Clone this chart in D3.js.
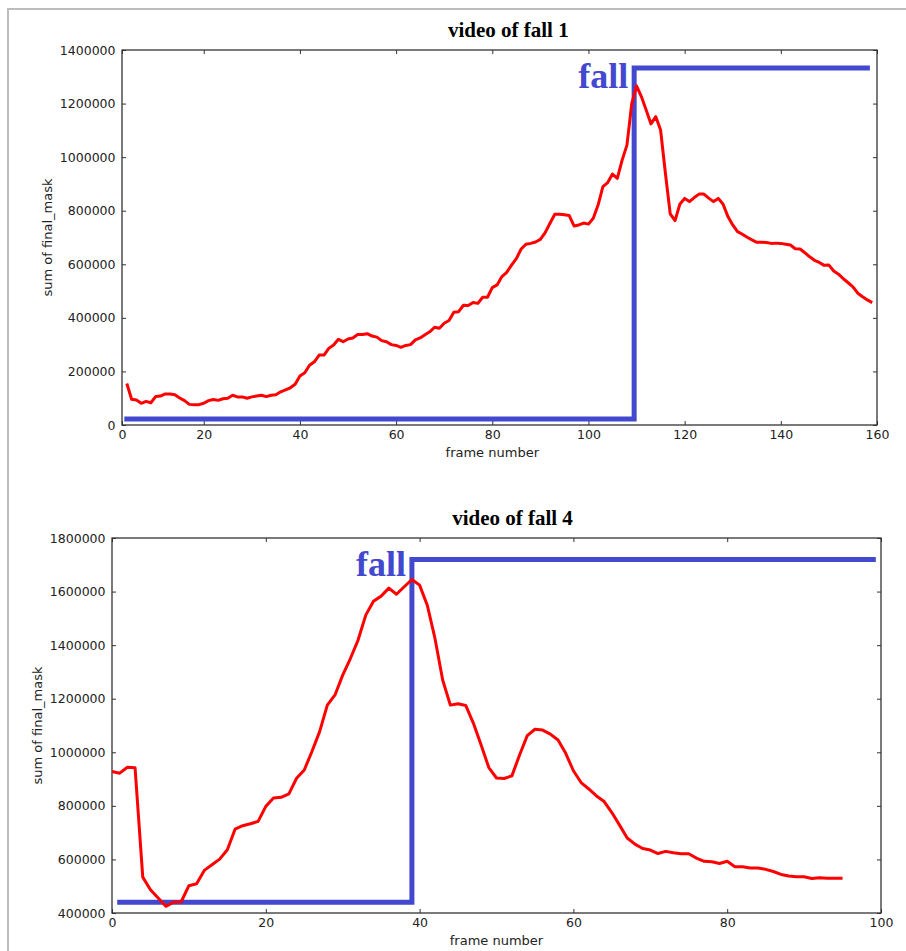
<!DOCTYPE html>
<html>
    <head>
        <script src="https://d3js.org/d3.v7.js"></script>
        <style>
            body{
                margin: 0;
                background: white;
            }
            .tick text{
                font-family: "DejaVu Sans", sans-serif;
                font-size: 12.5px;
                fill: #222;
            }
            .tick line{
                stroke: #333;
            }
        </style>
    </head>
    <body>
        <div class = 'graph'>
            <script>
                // video of fall 1 : sum of final_mask, frames 4..159
                const fall1Start = 4
                const fall1Values = [
                    155000, 96000, 93000, 81000, 88000, 83000, 106000, 108000, 116000, 116000,
                    113000, 101000, 91000, 77000, 76000, 76000, 81000, 91000, 95000, 92000,
                    98000, 100000, 111000, 105000, 105000, 100000, 105000, 108000, 111000, 106000,
                    111000, 113000, 124000, 131000, 139000, 152000, 183000, 195000, 223000, 236000,
                    261000, 261000, 286000, 299000, 320000, 311000, 321000, 325000, 338000, 338000,
                    341000, 332000, 328000, 315000, 311000, 300000, 297000, 290000, 297000, 300000,
                    318000, 325000, 337000, 348000, 365000, 361000, 380000, 390000, 421000, 423000,
                    447000, 446000, 457000, 454000, 477000, 477000, 513000, 523000, 554000, 570000,
                    597000, 621000, 657000, 675000, 678000, 683000, 693000, 718000, 753000, 787000,
                    787000, 785000, 782000, 743000, 747000, 754000, 750000, 772000, 821000, 890000,
                    905000, 937000, 921000, 989000, 1045000, 1200000, 1266000, 1226000, 1176000, 1124000,
                    1151000, 1101000, 940000, 788000, 763000, 824000, 846000, 834000, 849000, 862000,
                    862000, 847000, 834000, 846000, 824000, 778000, 747000, 722000, 712000, 701000,
                    691000, 682000, 682000, 681000, 678000, 679000, 678000, 675000, 672000, 658000,
                    657000, 643000, 628000, 615000, 607000, 596000, 597000, 575000, 563000, 546000,
                    531000, 516000, 492000, 479000, 467000, 457000
                ]
                const fall1StepFrames = [4, 109.5, 109.5, 158]
                const fall1StepValues = [22000, 22000, 1333000, 1333000]
                const fall1XTicks = [0, 20, 40, 60, 80, 100, 120, 140, 160]
                const fall1YTicks = [0, 200000, 400000, 600000, 800000, 1000000, 1200000, 1400000]

                // video of fall 4 : frames 0..95
                const fall4Start = 0
                const fall4Values = [
                    928000, 922000, 944000, 942000, 534000, 487000, 456000, 425000, 440000, 442000,
                    502000, 509000, 559000, 580000, 601000, 636000, 713000, 726000, 733000, 742000,
                    798000, 829000, 832000, 845000, 903000, 934000, 1003000, 1077000, 1176000, 1214000,
                    1288000, 1350000, 1419000, 1512000, 1564000, 1583000, 1613000, 1590000, 1618000, 1645000,
                    1624000, 1549000, 1425000, 1270000, 1176000, 1181000, 1175000, 1108000, 1027000, 943000,
                    904000, 902000, 912000, 990000, 1062000, 1086000, 1083000, 1068000, 1046000, 996000,
                    931000, 887000, 863000, 837000, 816000, 775000, 728000, 680000, 657000, 641000,
                    635000, 622000, 630000, 625000, 621000, 621000, 605000, 593000, 591000, 585000,
                    593000, 573000, 573000, 568000, 568000, 563000, 555000, 544000, 538000, 535000,
                    535000, 529000, 532000, 530000, 530000, 530000
                ]
                const fall4StepFrames = [1, 39, 39, 99]
                const fall4StepValues = [440000, 440000, 1720000, 1720000]
                const fall4XTicks = [0, 20, 40, 60, 80, 100]
                const fall4YTicks = [400000, 600000, 800000, 1000000, 1200000, 1400000, 1600000, 1800000]

                const titles = ['video of fall 1', 'video of fall 4']
                const fallLabel = 'fall'
                const xLabel = 'frame number'
                const yLabel = 'sum of final_mask'

                const w = 906
                const h = 951
                const blue = '#4349cf'

                const svg = d3.select('.graph')
                        .append('svg')
                        .attr('width', w)
                        .attr('height', h)

                // light grey page border (left and top)
                svg.append('path')
                    .attr('d', d3.line()([[8, h], [8, 9], [w, 9]]))
                    .attr('fill', 'none')
                    .attr('stroke', '#bdbdbd')
                    .attr('stroke-width', 2)

                const panels = [
                    {values: fall1Values, start: fall1Start, stepX: fall1StepFrames, stepY: fall1StepValues,
                     xTicks: fall1XTicks, yTicks: fall1YTicks, xDomain: [3, 160], title: titles[0],
                     left: 122, right: 877, top: 50, bottom: 425, labelPad: 20},
                    {values: fall4Values, start: fall4Start, stepX: fall4StepFrames, stepY: fall4StepValues,
                     xTicks: fall4XTicks, yTicks: fall4YTicks, xDomain: [0, 100], title: titles[1],
                     left: 112, right: 881, top: 538, bottom: 913, labelPad: 17}
                ]

                panels.forEach(p => {
                    const xScale = d3.scaleLinear()
                                     .domain(p.xDomain)
                                     .range([p.left, p.right])
                                     .clamp(true)
                    const yScale = d3.scaleLinear()
                                     .domain(d3.extent(p.yTicks))
                                     .range([p.bottom, p.top])

                    const g = svg.append('g')

                    // inward ticks on all four sides
                    g.append('g')
                        .attr('transform', 'translate(0,' + p.bottom + ')')
                        .call(d3.axisBottom(xScale).tickValues(p.xTicks).tickSizeInner(-4).tickSizeOuter(0).tickPadding(5.5))
                    g.append('g')
                        .attr('transform', 'translate(0,' + p.top + ')')
                        .call(d3.axisTop(xScale).tickValues(p.xTicks).tickSizeInner(-4).tickSizeOuter(0).tickFormat(''))
                    g.append('g')
                        .attr('transform', 'translate(' + p.left + ',0)')
                        .call(d3.axisLeft(yScale).tickValues(p.yTicks).tickSizeInner(-4).tickSizeOuter(0).tickPadding(6.5).tickFormat(d3.format('d')))
                    g.append('g')
                        .attr('transform', 'translate(' + p.right + ',0)')
                        .call(d3.axisRight(yScale).tickValues(p.yTicks).tickSizeInner(-4).tickSizeOuter(0).tickFormat(''))
                    g.selectAll('.domain').remove()

                    g.append('rect')
                        .attr('x', p.left)
                        .attr('y', p.top)
                        .attr('width', p.right - p.left)
                        .attr('height', p.bottom - p.top)
                        .attr('fill', 'none')
                        .attr('stroke', '#333')
                        .attr('stroke-width', 1.3)

                    // fall step line
                    const step = p.stepX.map((x, i) => [x, p.stepY[i]])
                    g.append('path')
                        .attr('d', d3.line().x(d => xScale(d[0])).y(d => yScale(d[1]))(step))
                        .attr('fill', 'none')
                        .attr('stroke', blue)
                        .attr('stroke-width', 5)
                        .attr('stroke-linecap', 'square')

                    // sum of final_mask
                    g.append('path')
                        .datum(p.values)
                        .attr('d', d3.line().x((d, i) => xScale(p.start + i)).y(d => yScale(d)))
                        .attr('fill', 'none')
                        .attr('stroke', '#ff0000')
                        .attr('stroke-width', 3)
                        .attr('stroke-linejoin', 'round')

                    g.append('text')
                        .attr('x', xScale(p.stepX[1]) - 6)
                        .attr('y', yScale(p.stepY[2]) + p.labelPad)
                        .attr('text-anchor', 'end')
                        .style('font-family', '"Liberation Serif", serif')
                        .style('font-weight', 'bold')
                        .style('font-size', '36px')
                        .style('fill', blue)
                        .text(fallLabel)

                    const mid = (xScale.copy().clamp(false)(0) + p.right) / 2

                    g.append('text')
                        .attr('x', mid + 16)
                        .attr('y', p.top - 13)
                        .attr('text-anchor', 'middle')
                        .style('font-family', '"Liberation Serif", serif')
                        .style('font-weight', 'bold')
                        .style('font-size', '21px')
                        .text(p.title)

                    g.append('text')
                        .attr('x', mid)
                        .attr('y', p.bottom + 32)
                        .attr('text-anchor', 'middle')
                        .style('font-family', '"DejaVu Sans", sans-serif')
                        .style('font-size', '13px')
                        .style('fill', '#222')
                        .text(xLabel)

                    g.append('text')
                        .attr('transform', 'translate(' + (p.left - 70.5) + ',' + ((p.top + p.bottom) / 2) + ') rotate(-90)')
                        .attr('text-anchor', 'middle')
                        .style('font-family', '"DejaVu Sans", sans-serif')
                        .style('font-size', '13px')
                        .style('fill', '#222')
                        .text(yLabel)
                })
            </script>
        </div>
    </body>
</html>
